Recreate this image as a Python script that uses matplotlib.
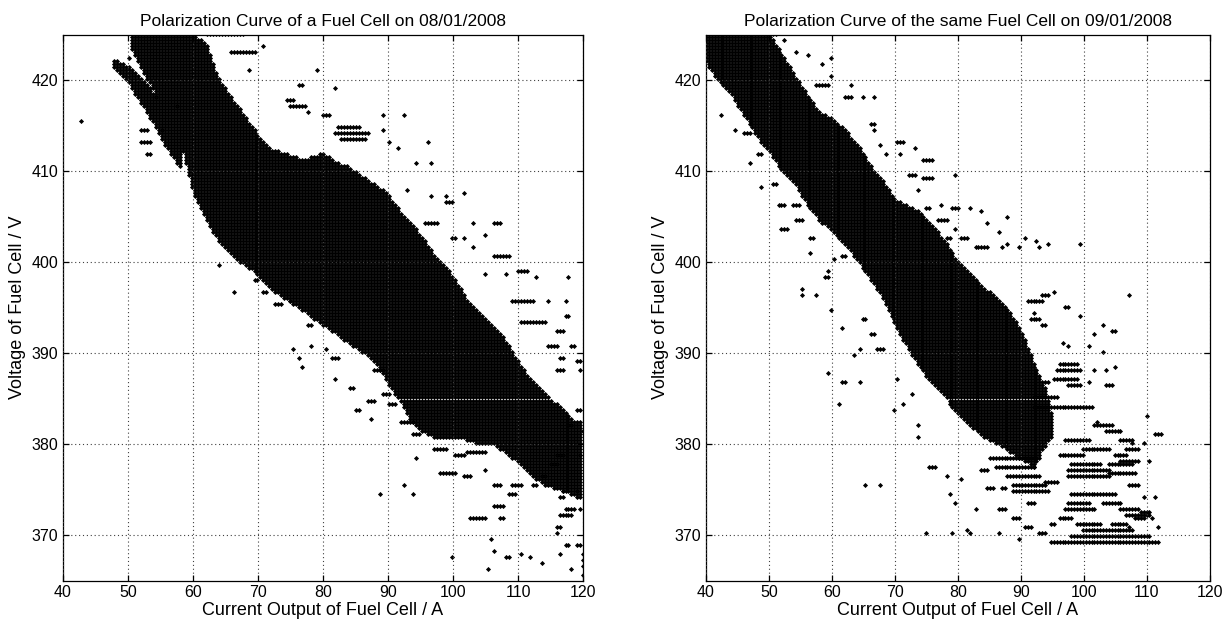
import numpy as np
import matplotlib.pyplot as plt

plt.rcParams['font.family'] = ['Liberation Sans', 'DejaVu Sans']

# logging resolution of the data acquisition (A, V)
step_a = 0.46
step_v = 0.33

# ---- 08/01/2008 : dense bands (current, lower / upper voltage edge)
band1_a = [50.5, 52, 54, 56, 58, 60, 62, 64, 66, 68, 70, 72, 74, 76, 78, 80, 82, 84,
           86, 88, 90, 92, 94, 96, 98, 100, 102, 104, 106, 108, 110, 112, 114, 116, 118, 120]
band1_lo = [423.5, 421.2, 418.6, 416, 413, 407.5, 404.5, 402, 400.5, 399.5, 398.5, 397,
            396, 395, 394, 393, 392, 391, 390, 389, 386.5, 384.5, 382, 381, 380.5, 380.5, 380.5,
            380, 380, 379, 378, 376.5, 375.5, 375, 374.5, 374]
band1_hi = [425, 425, 425, 425, 425, 425, 424, 420, 418, 416, 414, 412.5, 412, 411.5,
            411.5, 412, 411, 410.5, 409.5, 408.5, 407.5, 405.5, 404, 402, 400, 398.5, 396, 394.5,
            393, 391.5, 389, 387, 385.5, 384.5, 383, 382]
# the narrow strand just below the main body at low current
strand1_a = [47.5, 50, 52, 54, 56, 58]
strand1_lo = [421.5, 419.6, 417.3, 415, 412.3, 410.2]
strand1_hi = [422.4, 421.6, 420.4, 418.6, 416.0, 413.0]

# ---- 08/01/2008 : scattered readings as horizontal runs (current from, current to, voltage)
runs1 = [
    (42.8, 42.8, 415.5), (52.0, 53.2, 414.5), (52.0, 53.5, 413.3), (53.0, 53.5, 412.0),
    (54.2, 54.2, 418.1), (55.4, 55.4, 414.4), (57.3, 57.3, 417.0), (50.0, 50.5, 422.5),
    (62.0, 67.9, 425.0), (66.0, 69.5, 423.2), (68.4, 68.4, 421.2), (70.8, 71.2, 423.6),
    (74.3, 75.5, 417.7), (76.4, 77.0, 419.4), (75.2, 77.7, 417.0), (77.7, 77.7, 416.4),
    (79.2, 79.2, 421.0), (81.7, 81.7, 419.0), (80.0, 81.0, 416.1),
    (82.5, 86.0, 414.8), (82.0, 87.0, 414.2), (83.0, 86.5, 413.6),
    (89.1, 89.1, 414.4), (89.4, 89.4, 416.1), (92.5, 92.5, 416.1), (90.0, 90.0, 413.1),
    (91.6, 91.6, 412.6), (96.2, 96.2, 413.1), (94.4, 94.4, 410.7), (96.5, 96.5, 410.7),
    (92.8, 92.8, 408.0), (96.8, 96.8, 407.2), (98.7, 98.7, 407.2), (101.8, 101.8, 407.6),
    (98.7, 100.2, 406.5), (95.9, 97.8, 404.1), (100.0, 100.5, 402.5), (101.8, 101.8, 402.5),
    (103.0, 103.0, 401.7), (103.0, 103.0, 404.1), (104.9, 104.9, 403.0), (106.4, 107.6, 404.1),
    (106.4, 108.6, 400.6), (104.9, 104.9, 398.6), (108.2, 108.2, 398.6), (110.1, 111.6, 399.0),
    (112.9, 112.9, 398.2), (117.8, 117.8, 398.2), (109.2, 112.3, 395.6), (114.7, 114.7, 395.6),
    (117.5, 117.5, 395.6), (110.4, 114.1, 393.4), (117.2, 117.8, 394.1), (116.0, 117.2, 392.5),
    (114.7, 116.0, 390.7), (116.6, 117.2, 389.4), (118.4, 119.0, 390.7), (119.0, 120.0, 389.0),
    (119.7, 120.0, 388.1), (116.0, 117.2, 388.1), (119.0, 119.7, 383.7), (119.0, 120.0, 382.4),
    (120.0, 120.0, 381.5), (117.8, 118.4, 382.0), (119.4, 119.4, 378.9), (116.0, 117.2, 379.0),
    (115.2, 116.0, 378.0), (119.0, 119.0, 375.0), (116.9, 116.9, 375.0), (113.5, 114.4, 376.5),
    (112.3, 112.9, 375.6), (116.3, 117.2, 374.1), (117.5, 119.0, 373.0), (119.7, 119.7, 373.0),
    (116.6, 118.4, 372.3), (116.0, 116.6, 371.0), (116.0, 116.0, 370.4), (117.5, 118.0, 369.0),
    (116.6, 116.6, 367.9), (119.0, 119.7, 369.0), (120.0, 120.0, 367.9), (120.0, 120.0, 367.3),
    (120.0, 120.0, 366.6), (120.0, 120.0, 365.8), (118.4, 118.4, 366.4), (113.5, 114.0, 366.8),
    (111.6, 111.6, 367.7), (110.4, 110.4, 367.9), (107.9, 108.8, 367.7), (105.5, 105.5, 366.4),
    (106.1, 106.1, 368.4), (105.8, 105.8, 369.5), (100.0, 100.0, 367.5),
    (102.4, 104.9, 371.9), (107.3, 107.9, 371.9), (106.1, 107.9, 373.2), (108.6, 109.5, 374.5),
    (109.0, 110.6, 375.4), (106.1, 107.6, 375.4), (98.0, 100.5, 376.7), (101.5, 103.0, 376.4),
    (100.3, 101.8, 378.7), (105.0, 105.0, 377.1), (92.5, 92.5, 375.6), (93.7, 93.7, 374.5),
    (88.8, 88.8, 374.5), (94.4, 94.4, 378.5), (97.0, 99.0, 379.6), (102.0, 105.0, 379.3),
    (85.1, 86.0, 383.7), (84.0, 85.0, 386.1), (82.0, 82.0, 387.0), (89.4, 90.6, 385.5),
    (90.0, 91.3, 384.4), (87.6, 87.6, 382.8), (87.0, 88.0, 384.8), (92.0, 94.0, 382.5),
    (81.4, 82.6, 389.4), (80.5, 80.5, 390.5), (77.0, 77.0, 388.5), (76.4, 76.4, 389.4),
    (75.5, 75.5, 390.5), (78.0, 78.0, 390.7), (77.7, 78.3, 392.9), (75.2, 75.2, 395.6),
    (72.7, 73.6, 395.3), (70.9, 71.5, 396.7), (69.6, 70.3, 398.0), (66.2, 66.6, 396.8),
    (63.8, 63.8, 399.5), (88.0, 89.5, 388.0), (94.0, 95.0, 381.0),
]

# ---- 09/01/2008 : dense band
band2_a = [40, 42, 44, 46, 48, 50, 52, 54, 56, 58, 60, 62, 64, 66, 68, 70, 72, 74, 76, 78,
           80, 82, 84, 86, 88, 90, 92, 94, 95]
band2_lo = [421.8, 419.8, 418.3, 416, 413.8, 412, 410, 408.7, 406.2, 404.5, 403.2, 402, 400,
            398.2, 396, 393, 390.5, 388.2, 386.5, 385, 383.3, 382, 380.8, 380, 379.3, 378.3,
            377.5, 380, 381]
band2_hi = [425, 425, 425, 425, 425, 425, 423, 420.7, 418.5, 416.5, 415.8, 414.6, 413, 410.8,
            409, 407, 406.2, 405.5, 404, 402.2, 400, 398.6, 397.3, 396.3, 394.8, 392.5, 389,
            386, 383]

# ---- 09/01/2008 : scattered readings
runs2 = [
    (49.7, 51.5, 425.0), (52.4, 52.4, 424.5), (54.5, 54.5, 423.2), (56.2, 56.2, 422.7),
    (58.3, 58.3, 421.6), (59.8, 59.8, 422.5), (59.8, 59.8, 420.5), (57.7, 59.5, 419.4),
    (63.1, 63.1, 419.4), (61.9, 63.1, 418.1), (64.9, 64.9, 418.1), (66.7, 66.7, 418.1),
    (66.4, 66.7, 415.2), (66.7, 66.7, 414.6), (70.2, 71.7, 413.3), (67.8, 67.8, 412.9),
    (68.4, 68.4, 412.0), (70.8, 70.8, 412.0), (73.2, 73.2, 412.6), (74.7, 75.9, 411.1),
    (74.4, 76.2, 409.1), (72.0, 73.2, 409.6), (73.8, 73.8, 407.8), (79.4, 79.4, 409.6),
    (77.1, 77.1, 406.3), (79.1, 80.3, 406.0), (82.1, 82.1, 406.0), (83.9, 83.9, 405.6),
    (84.8, 84.8, 404.3), (75.0, 75.6, 405.9), (76.8, 78.5, 404.5), (79.4, 80.0, 403.7),
    (78.0, 78.8, 402.6), (80.6, 81.8, 402.5), (83.0, 84.8, 401.7), (86.9, 86.9, 401.5),
    (87.8, 87.8, 402.1), (86.3, 86.3, 403.2), (87.8, 87.8, 405.0), (89.6, 89.6, 401.7),
    (90.4, 90.4, 402.6), (92.5, 92.5, 402.3), (92.8, 92.8, 401.7), (94.3, 94.3, 402.1),
    (99.4, 99.4, 402.1), (95.2, 95.2, 396.6), (93.4, 94.4, 396.3), (91.0, 93.4, 395.6),
    (92.2, 92.2, 394.2), (91.5, 93.0, 393.6), (93.4, 94.0, 392.9), (97.0, 97.9, 395.1),
    (99.4, 99.4, 394.0), (101.7, 101.7, 392.0), (102.9, 102.9, 393.1), (104.4, 105.3, 392.5),
    (107.1, 107.1, 396.4), (96.4, 96.4, 391.2), (97.6, 97.6, 390.7), (100.6, 100.6, 390.7),
    (102.9, 102.9, 389.9), (101.7, 101.7, 388.1), (103.5, 103.5, 388.1), (104.7, 104.7, 388.5),
    (103.5, 104.7, 386.3), (96.0, 99.0, 388.9), (95.5, 99.4, 388.0), (95.0, 99.0, 387.2),
    (97.6, 99.4, 386.3), (100.6, 100.6, 386.8), (94.0, 94.6, 386.8), (92.0, 101.6, 384.2),
    (92.0, 96.0, 385.0), (102.3, 102.3, 382.6), (101.7, 104.7, 382.0), (103.5, 105.9, 381.5),
    (105.9, 107.7, 380.6), (106.5, 108.9, 379.5), (107.7, 107.7, 380.3), (109.5, 109.5, 380.0),
    (111.3, 112.5, 381.0), (109.8, 109.8, 383.0), (110.4, 110.4, 378.2), (108.3, 108.3, 377.0),
    (109.5, 109.8, 374.1), (111.3, 111.3, 374.1), (108.3, 109.5, 371.9), (107.1, 107.1, 371.0),
    # lower fringe
    (42.3, 42.3, 416.1), (44.6, 44.6, 414.4), (45.8, 47.0, 414.0), (47.0, 47.0, 410.7),
    (48.5, 49.0, 411.8), (48.8, 48.8, 408.3), (50.6, 51.2, 408.5), (51.5, 52.7, 406.1),
    (51.8, 53.0, 403.7), (53.6, 54.8, 406.1), (54.2, 55.3, 404.5), (55.3, 55.3, 397.1),
    (55.3, 55.3, 396.2), (57.4, 57.4, 396.2), (56.8, 57.4, 402.6), (56.5, 56.5, 401.0),
    (59.2, 59.2, 399.0), (59.0, 59.5, 398.3), (60.1, 60.1, 400.2), (61.6, 62.5, 400.5),
    (59.5, 59.5, 387.7), (59.8, 59.8, 394.7), (61.6, 61.6, 392.7), (61.6, 62.5, 386.6),
    (61.0, 61.0, 384.4), (64.3, 64.3, 390.5), (64.6, 64.6, 386.8), (63.4, 63.4, 389.6),
    (66.1, 66.7, 392.0), (67.2, 68.1, 390.3), (64.9, 65.5, 393.8), (65.5, 65.5, 375.6),
    (67.8, 67.8, 375.6), (69.9, 70.2, 383.7), (70.2, 70.2, 387.0), (71.1, 71.1, 384.6),
    (72.6, 72.6, 385.5), (73.8, 73.8, 382.0), (73.8, 73.8, 380.7), (75.6, 76.8, 377.6),
    (75.0, 75.0, 370.1), (78.0, 78.5, 376.5), (78.5, 78.5, 374.7), (79.1, 79.1, 370.1),
    (79.4, 79.4, 373.6), (80.3, 80.3, 376.3), (81.2, 81.2, 370.6), (82.1, 82.1, 370.1),
    (83.0, 83.0, 372.8), (84.5, 85.7, 375.3), (83.9, 84.8, 377.1), (86.9, 87.8, 375.3),
    (86.3, 87.5, 372.8), (88.7, 89.9, 371.9), (89.9, 89.9, 369.5), (91.0, 92.2, 373.4),
    (90.4, 91.6, 371.0), (93.1, 94.0, 370.4), (94.6, 95.5, 371.4), (86.3, 86.6, 370.4),
    (85.0, 93.0, 378.5), (86.0, 92.0, 377.5), (88.0, 93.0, 376.6), (94.0, 96.0, 376.0),
    (88.7, 94.6, 374.8), (89.0, 94.0, 375.7),
    # floor of the 09/01 curve
    (94.6, 112.2, 369.3), (98.2, 110.7, 369.9), (100.0, 108.0, 370.6), (99.0, 103.0, 371.4),
    (104.5, 107.0, 371.4), (97.0, 101.7, 372.8), (97.6, 101.0, 373.4), (98.0, 101.7, 374.5),
    (97.6, 104.1, 376.5), (104.1, 107.7, 376.8), (104.1, 107.7, 377.9), (105.0, 107.0, 378.9),
    (98.0, 103.0, 377.7), (96.0, 100.0, 378.9), (100.0, 104.0, 379.6), (97.0, 101.0, 380.5),
    (102.0, 105.0, 374.5), (103.0, 106.0, 373.4), (107.0, 109.0, 375.6), (96.0, 98.0, 371.9),
    (110.7, 110.7, 371.9), (111.9, 111.9, 371.0), (109.0, 110.5, 372.5),
    (106.5, 110.5, 372.2), (106.0, 109.0, 372.8), (97.6, 104.0, 377.2), (106.0, 109.0, 378.2),
]


def dense_points(a, lo, hi):
    xs, ys = [], []
    for x in np.arange(np.ceil(a[0] / step_a) * step_a, a[-1] + 1e-9, step_a):
        l = np.interp(x, a, lo)
        h = np.interp(x, a, hi)
        v = np.arange(np.ceil(l / step_v) * step_v, h + 1e-9, step_v)
        xs += [x] * len(v)
        ys += list(v)
    return xs, ys


def run_points(runs):
    xs, ys = [], []
    for a0, a1, v in runs:
        a = np.arange(np.round(a0 / step_a) * step_a, a1 + 1e-9, step_a)
        if len(a) == 0:
            a = [np.round(a0 / step_a) * step_a]
        xs += list(a)
        ys += [np.round(v / step_v) * step_v] * len(a)
    return xs, ys


fig = plt.figure(figsize=(12.28, 6.25), dpi=100)
ax1 = fig.add_axes([0.0513, 0.0712, 0.4235, 0.8736])
ax2 = fig.add_axes([0.5749, 0.0712, 0.4104, 0.8736])

panels = [
    (ax1, [(band1_a, band1_lo, band1_hi), (strand1_a, strand1_lo, strand1_hi)], runs1,
     'Polarization Curve of a Fuel Cell on 08/01/2008'),
    (ax2, [(band2_a, band2_lo, band2_hi)], runs2,
     'Polarization Curve of the same Fuel Cell on 09/01/2008'),
]

for ax, bands, runs, title in panels:
    xs, ys = run_points(runs)
    for ba, blo, bhi in bands:
        bx, by = dense_points(ba, blo, bhi)
        xs += bx
        ys += by
    ax.plot(xs, ys, 'D', color='black', markersize=2.6, markeredgewidth=0)
    ax.set_xlim(40, 120)
    ax.set_ylim(365, 425)
    ax.set_xticks(np.arange(40, 121, 10))
    ax.set_yticks(np.arange(370, 421, 10))
    ax.grid(True, color='0.25', linestyle=(0, (1, 2.5)), linewidth=0.8)
    ax.set_axisbelow(False)
    ax.tick_params(direction='in', top=True, right=True, length=4, labelsize=11.5,
                   width=0.9)
    for s in ax.spines.values():
        s.set_linewidth(0.9)
    ax.set_title(title, fontsize=12.5, pad=6)
    ax.set_xlabel('Current Output of Fuel Cell / A', fontsize=13, labelpad=1)
    ax.set_ylabel('Voltage of Fuel Cell / V', fontsize=13, labelpad=4)

fig.savefig('out.png', dpi=100)
